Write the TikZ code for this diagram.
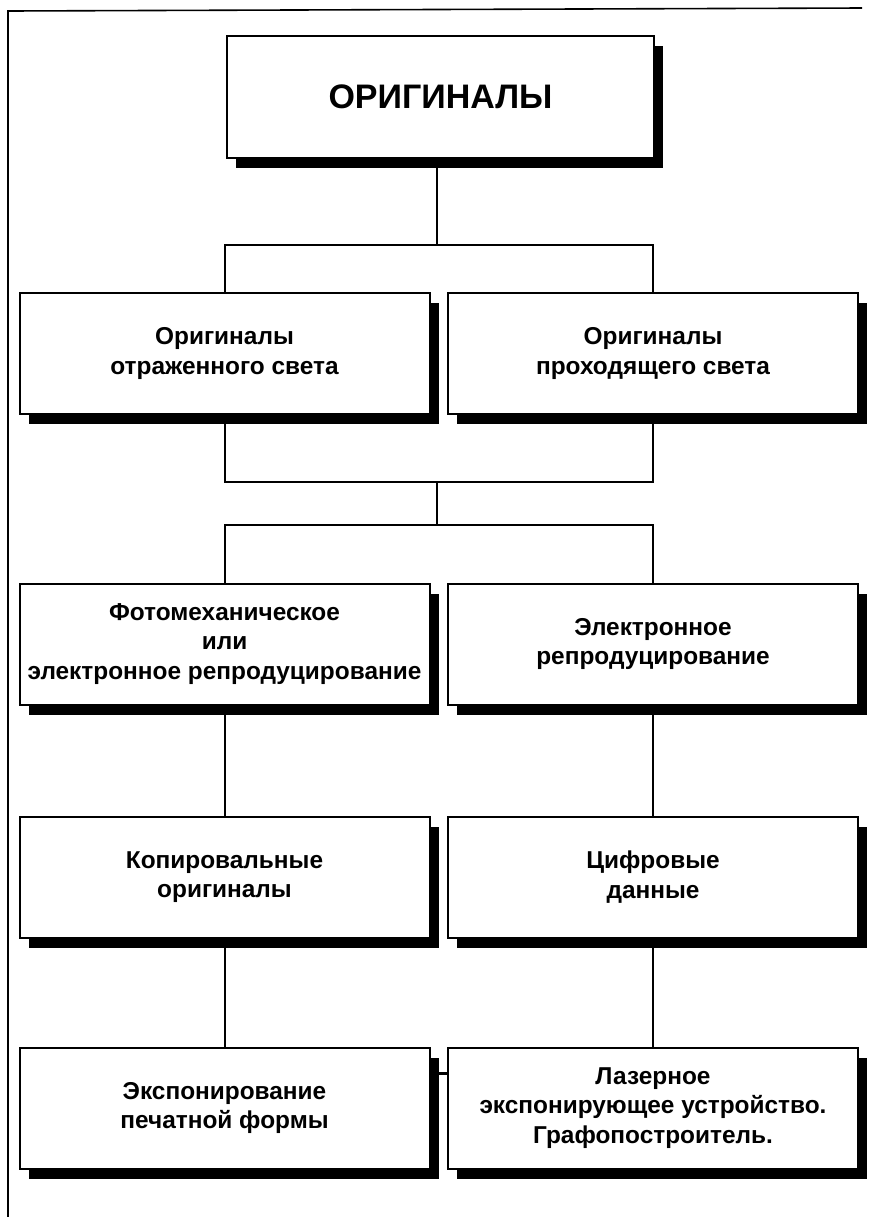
\documentclass[tikz,border=0pt]{standalone}
\usepackage{fontspec}
\setmainfont{Liberation Sans}
\usetikzlibrary{shadows}
\begin{document}
\begin{tikzpicture}[x=0.5pt,y=-0.5pt,
  box/.style={draw=black, line width=1pt, fill=white, align=center,
    inner sep=0pt, minimum width=205pt, minimum height=60.5pt,
    font=\bfseries\fontsize{12.2}{14.8}\selectfont,
    general shadow={fill=black, shadow xshift=4.5pt, shadow yshift=-5pt}},
  wire/.style={line width=1pt, draw=black},
  frame/.style={line width=0.8pt, draw=black}]
\useasboundingbox (0,0) rectangle (871,1217);
\fill[white] (0,0) rectangle (871,1217);
% page frame
\coordinate (fa) at (8,1217);
\coordinate (fb) at (8,11);
\coordinate (fc) at (862,8);
\draw[frame] (fa) -- (fb) -- (fc);
% boxes
\node[box, minimum width=213.5pt, minimum height=61pt,
      font=\bfseries\fontsize{17}{20}\selectfont] (top) at (440.5,97) {ОРИГИНАЛЫ};
\node[box] (r2l) at (224.5,353.5) {Оригиналы\\отраженного света};
\node[box] (r2r) at (653,353.5) {Оригиналы\\проходящего света};
\node[box] (r3l) at (224.5,644) {Фотомеханическое\\или\\электронное репродуцирование};
\node[box] (r3r) at (653,644) {Электронное\\репродуцирование};
\node[box] (r4l) at (224.5,877) {Копировальные\\оригиналы};
\node[box] (r4r) at (653,877) {Цифровые\\данные};
\node[box] (r5l) at (224.5,1108) {Экспонирование\\печатной формы};
\node[box] (r5r) at (653,1108) {Лазерное\\экспонирующее устройство.\\Графопостроитель.};
% junction coordinates
\coordinate (j1) at (437,245);
\coordinate (j2) at (437,482);
\coordinate (j3) at (437,525);
\coordinate (lnk) at (437,1073);
% connectors
\draw[wire] (top.south -| j1) -- (j1);
\draw[wire] (r2l.north) |- (j1) -| (r2r.north);
\draw[wire] (r2l.south) |- (j2) -| (r2r.south);
\draw[wire] (j2) -- (j3);
\draw[wire] (r3l.north) |- (j3) -| (r3r.north);
\draw[wire] (r3l) -- (r4l);
\draw[wire] (r3r) -- (r4r);
\draw[wire] (r4l) -- (r5l);
\draw[wire] (r4r) -- (r5r);
\draw[wire, line width=1.5pt] (r5l.east |- lnk) -- (r5r.west |- lnk);
\end{tikzpicture}
\end{document}
